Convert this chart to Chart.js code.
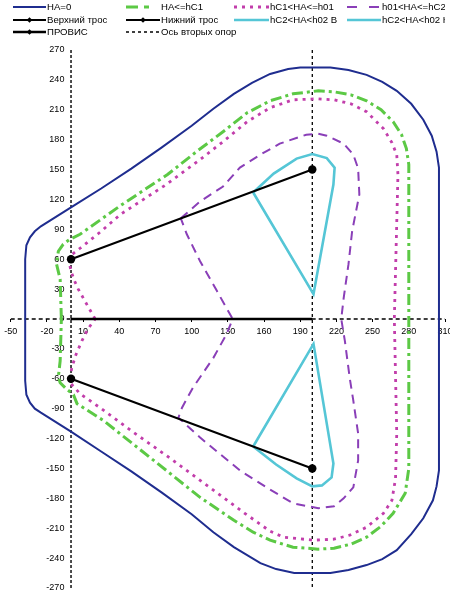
<!DOCTYPE html>
<html><head><meta charset="utf-8">
<script src="https://cdn.jsdelivr.net/npm/chart.js@4.4.1/dist/chart.umd.min.js"></script>
<style>
html,body{margin:0;padding:0;background:#fff;}
#wrap{position:relative;width:450px;height:604px;overflow:hidden;}
#c{position:absolute;left:0;top:0;}
#legend{position:absolute;left:0;top:0;width:445px;height:45px;overflow:hidden;font:9.6px "Liberation Sans",Arial,sans-serif;color:#000;}
.lg-line{position:absolute;}
.lg-text{position:absolute;white-space:nowrap;line-height:12px;height:12px;}
</style></head>
<body>
<div id="wrap"><canvas id="c" width="450" height="604"></canvas><div id="legend"></div></div>
<script>
// ---------- data ----------
const xTicks = [-50,-20,10,40,70,100,130,160,190,220,250,280,310];
const yTicks = [-270,-240,-210,-180,-150,-120,-90,-60,-30,0,30,60,90,120,150,180,210,240,270];

const seriesLabels = ['HA=0','HA<=hC1','hC1<HA<=h01','h01<HA<=hC2','Верхний трос','Нижний трос','hC2<HA<h02 В','hC2<HA<h02 Н','ПРОВИС','Ось вторых опор'];

const zoneHA0 = [[-38,60],[-37,74],[-34,82],[-30,88],[-25,93],[0,112],[25,131],[50,151],[75,172],[100,194],[118,211],[135,226],[150,237],[165,246],[180,251],[190,252.5],[215,252.5],[230,250],[245,245],[258,238],[270,229],[282,216],[292,200],[299,184],[303,168],[305,152],[305,-152],[303,-168],[300,-182],[292,-200],[282,-216],[270,-232],[258,-241],[245,-247],[230,-252],[215,-255],[185,-255],[170,-251],[157,-245],[135,-229],[118,-214],[100,-196],[75,-174],[50,-153],[25,-133],[0,-113],[-25,-94],[-30,-90],[-34,-84],[-37,-76],[-38,-62],[-38,60]];

const zoneHC1 = [[-8,0],[-9,40],[-12,55],[-10.5,68],[-6.5,75],[-1,80],[7.5,85],[40,113],[80,145],[104,168],[126,188],[146,207],[165,219],[184,226],[205,229],[218,228],[232,225],[245,219],[257,210],[267,198],[274,185],[278,171],[280,155],[280,-150],[277,-175],[267,-195],[257,-208],[245,-219],[232,-226],[218,-230],[205,-231],[184,-229],[165,-222],[151,-214],[135,-202],[107,-179],[79,-152],[27,-102],[5,-85],[2,-76],[-4,-70],[-9,-64],[-10.5,-58],[-9,-42],[-8,0]];

const zoneH01 = [[20,0],[12,17],[6,30],[3,38],[0,48],[-1.5,57],[0,64],[7.5,71],[25,88],[41,105],[79,135],[107,160],[126,178],[146,198],[165,212],[184,220],[205,221],[218,220],[232,216],[245,208],[259,191],[266,177],[270,165],[271,145],[268,0],[270,-115],[269,-160],[266,-182],[259,-195],[245,-209],[231,-217],[218,-221],[201,-222],[176,-219],[165,-213],[144,-195],[107,-162],[79,-137],[52,-114],[24,-89],[7.5,-75],[0,-65],[-0.5,-58],[0.6,-49],[4,-36],[9,-22],[14,-10],[20,0]];

const zoneHC2 = [[91,101],[107,118],[126,133],[140,152],[157,165],[173,176],[195,185],[205,186],[212,184],[226,176],[234,165],[238,151],[239,125],[233,88],[230,55],[226,21],[224,0],[227,-22],[231,-59],[234,-82],[238,-115],[238,-142],[234,-169],[226,-180],[218,-188],[205,-190],[184,-185],[162,-169],[140,-152],[107,-119],[89,-99],[92,-89],[101,-69],[118,-39],[129,-15],[134,0],[121,28],[107,58],[96,85],[91,101]];

const upperCable = [[0,60],[200,150]];
const lowerCable = [[0,-60],[200,-150]];
const zoneH02Upper = [[151,127],[168,146],[187,161],[200,165.5],[212,161.5],[218.5,152],[217.5,135],[201,25],[151,127]];
const zoneH02Lower = [[151,-128],[170,-146],[187,-160],[200,-168],[208,-167],[216,-159],[217.5,-145],[201,-25],[151,-128]];
const sagLine = [[0,0],[200,0]];
const secondSupportAxis = [[200,270],[200,-270]];

const xRange = [-50,310];
const yRange = [-270,270];
// ------------------------------------------------------------

const pts = a => a.map(p => ({x:p[0], y:p[1]}));
const FONT = '"Liberation Sans", Arial, sans-serif';

const styles = [
  {color:'#1f2d8f', width:2, dash:[], order:5},
  {color:'#5cc945', width:3, dash:[11,4,3,4], legDash:[12,6,5,20], order:4},
  {color:'#c23eab', width:2.8, dash:[3,5], order:3},
  {color:'#8a3fb8', width:2, dash:[9,6], legDash:[10,12], order:2},
  {color:'#000000', width:2, dash:[], order:0, marker:true},
  {color:'#000000', width:2, dash:[], order:0, marker:true},
  {color:'#55c6d6', width:2.6, dash:[], order:1},
  {color:'#55c6d6', width:2.6, dash:[], order:1},
  {color:'#000000', width:2.6, dash:[], order:0, marker:true},
  {color:'#000000', width:1.3, dash:[3,3], order:6},
];
const seriesData = [zoneHA0, zoneHC1, zoneH01, zoneHC2, upperCable, lowerCable, zoneH02Upper, zoneH02Lower, sagLine, secondSupportAxis];

const datasets = seriesData.map((d,i) => {
  const s = styles[i];
  const isCable = (i === 4 || i === 5);
  return {
    label: seriesLabels[i],
    data: pts(d),
    showLine: true,
    borderColor: s.color,
    backgroundColor: s.color,
    borderWidth: s.width,
    borderDash: s.dash,
    pointRadius: isCable ? 4.2 : 0,
    pointBackgroundColor: '#000',
    pointBorderWidth: 0,
    tension: 0,
    fill: false,
    order: s.order
  };
});
// axis lines (dashed, crossing at zero)
datasets.push({label:'_xaxis', data: pts([[xRange[0],0],[xRange[1],0]]), showLine:true, borderColor:'#000', borderWidth:1.4, borderDash:[4,3], pointRadius:0, order:7});
datasets.push({label:'_yaxis', data: pts([[0,yRange[0]],[0,yRange[1]]]), showLine:true, borderColor:'#000', borderWidth:1.4, borderDash:[3,2], pointRadius:0, order:7});

const zeroFit = s => { s.paddingLeft = 0; s.paddingRight = 0; s.paddingTop = 0; s.paddingBottom = 0; };

// y labels are drawn right-aligned at this x value (a few pixels left of the x=0 axis line)
const yLabelAnchor = -5.5;

new Chart(document.getElementById('c'), {
  type: 'scatter',
  data: {datasets},
  options: {
    responsive: false,
    animation: false,
    devicePixelRatio: 1,
    layout: {padding: {left: 10.7, right: 5, top: 50, bottom: 16}},
    plugins: {legend: {display: false}, tooltip: {enabled: false}},
    scales: {
      x: {
        type: 'linear', min: xRange[0], max: xRange[1], position: {y: 0},
        afterBuildTicks: s => { s.ticks = xTicks.map(v => ({value: v})); },
        afterFit: s => { s.height = 0; zeroFit(s); },
        border: {display: false},
        grid: {drawOnChartArea: false, drawTicks: true, tickLength: 3, color: '#000', lineWidth: 1},
        ticks: {autoSkip: false, maxRotation: 0, color: '#000', padding: 4, font: {size: 9, family: FONT}}
      },
      y: {
        type: 'linear', min: yRange[0], max: yRange[1], position: {x: yLabelAnchor},
        afterBuildTicks: s => { s.ticks = yTicks.map(v => ({value: v})); },
        afterFit: s => { s.width = 0; zeroFit(s); },
        border: {display: false},
        grid: {drawOnChartArea: false, drawTicks: false},
        ticks: {autoSkip: false, color: '#000', padding: 0, font: {size: 9, family: FONT}}
      }
    }
  }
});

// ---------- HTML legend (4 columns x 3 rows) ----------
const legCols = [13, 126, 234, 347];
const legTextX = [47, 161, 270, 382];
const legRows = [7, 19.5, 32];
const legend = document.getElementById('legend');
seriesLabels.forEach((lab, i) => {
  const s = styles[i];
  const r = Math.floor(i / 4), c = i % 4;
  const x0 = legCols[c], w = legTextX[c] - legCols[c] - 1, cy = legRows[r];
  const svgNS = 'http://www.w3.org/2000/svg';
  const svg = document.createElementNS(svgNS, 'svg');
  svg.setAttribute('width', w); svg.setAttribute('height', 10);
  svg.setAttribute('class', 'lg-line');
  svg.style.left = x0 + 'px'; svg.style.top = (cy - 5) + 'px';
  const ln = document.createElementNS(svgNS, 'line');
  ln.setAttribute('x1', 0); ln.setAttribute('y1', 5); ln.setAttribute('x2', w); ln.setAttribute('y2', 5);
  ln.setAttribute('stroke', s.color); ln.setAttribute('stroke-width', Math.min(s.width, 3));
  const dash = s.legDash || s.dash;
  if (dash.length) ln.setAttribute('stroke-dasharray', dash.join(' '));
  svg.appendChild(ln);
  if (s.marker) {
    const m = document.createElementNS(svgNS, 'rect');
    m.setAttribute('x', w/2 - 2); m.setAttribute('y', 3); m.setAttribute('width', 4); m.setAttribute('height', 4);
    m.setAttribute('fill', '#000'); m.setAttribute('transform', `rotate(45 ${w/2} 5)`);
    svg.appendChild(m);
  }
  legend.appendChild(svg);
  const t = document.createElement('div');
  t.className = 'lg-text';
  t.textContent = lab;
  t.style.left = legTextX[c] + 'px';
  t.style.top = (cy - 6) + 'px';
  legend.appendChild(t);
});
</script>
</body></html>
